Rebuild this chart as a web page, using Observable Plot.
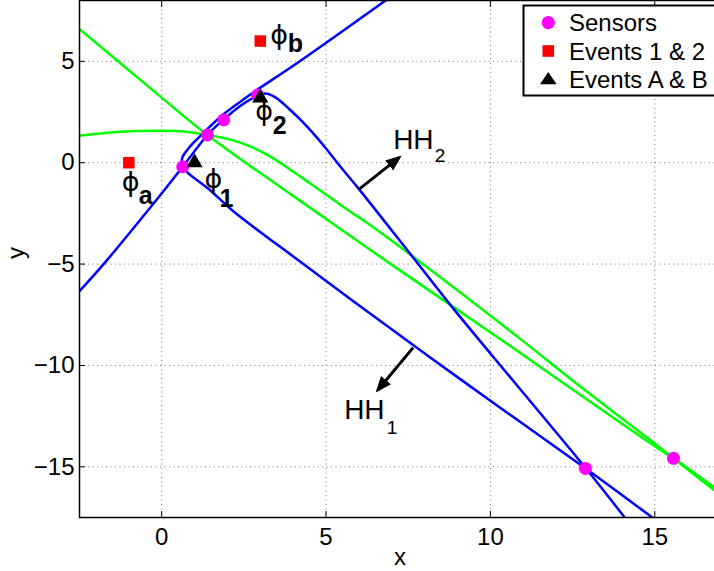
<!DOCTYPE html>
<html><head><meta charset="utf-8">
<script src="https://cdn.jsdelivr.net/npm/d3@7"></script>
<script src="https://cdn.jsdelivr.net/npm/@observablehq/plot@0.6"></script>
<style>
html,body{margin:0;padding:0;background:#fff;overflow:hidden;}
#wrap{position:relative;width:714px;height:571px;overflow:hidden;background:#fff;}
#legend{position:absolute;left:0;top:0;width:714px;height:571px;pointer-events:none;}
</style></head><body>
<div id="wrap"></div>
<script>
// ---- data ----
const xTicks = [0, 5, 10, 15];
const yTicks = [-15, -10, -5, 0, 5];

const sensorX = [0.64, 1.39, 1.89, 2.92, 12.89, 15.57];
const sensorY = [-0.20, 1.37, 2.11, 3.34, -15.08, -14.58];

const events12X = [-1, 3];
const events12Y = [0, 6];
const events12Labels = ["a", "b"];

const eventsABX = [1, 3];
const eventsABY = [0, 3.2];
const eventsABLabels = ["1", "2"];

// blue hyperbola HH1
const hh1X = [6.81, 4.19, 2.83, 2.31, 1.79, 1.31, 0.94, 0.76, 0.64, 0.61, 0.67, 0.82, 1.06, 1.49, 2.16, 4.22, 5.81, 9.24, 12.92, 14.95];
const hh1Y = [8.00, 4.99, 3.51, 2.91, 2.27, 1.53, 0.94, 0.59, 0.30, 0.05, -0.25, -0.54, -0.84, -1.38, -2.37, -4.89, -6.81, -10.86, -15.11, -17.53];

// blue hyperbola HH2
const hh2X = [-2.52, -1.76, -0.18, 0.64, 1.40, 1.88, 2.40, 2.92, 3.16, 3.47, 3.83, 4.22, 4.59, 4.98, 5.44, 5.99, 7.63, 8.88, 10.70, 12.92, 14.10];
const hh2Y = [-6.37, -4.99, -1.88, -0.20, 1.38, 2.12, 2.81, 3.31, 3.41, 3.21, 2.72, 2.12, 1.48, 0.74, -0.20, -1.28, -4.64, -7.21, -10.77, -15.11, -17.53];

// green hyperbolas
const g1X = [-2.52, 0.00, 1.39, 5.08, 6.96, 10.91, 12.13, 15.17, 15.57, 16.81, 17.0];
const g1Y = [6.62, 3.21, 1.37, -2.86, -4.99, -9.38, -10.77, -14.17, -14.58, -16.00, -16.2];
const g2X = [-2.52, -1.25, 0.00, 0.73, 1.39, 2.10, 2.71, 3.31, 3.92, 4.53, 5.14, 5.74, 6.20, 6.96, 10.91, 12.52, 15.17, 15.57, 16.81, 17.0];
const g2Y = [1.33, 1.53, 1.58, 1.53, 1.37, 1.14, 0.79, 0.30, -0.35, -1.04, -1.73, -2.42, -2.91, -3.80, -8.69, -10.77, -14.07, -14.58, -16.15, -16.35];

// direction arrows and their labels
const arrowX1 = [5.99, 7.65];
const arrowY1 = [-1.33, -9.12];
const arrowX2 = [7.23, 6.57];
const arrowY2 = [0.26, -11.22];
const arrowNames = ["HH", "HH"];
const arrowSubs = ["2", "1"];

const legendLabels = ["Sensors", "Events 1 & 2", "Events A & B"];

// ---- build ----
const font = "'Liberation Sans', Arial, Helvetica, sans-serif";
const pts = (xs, ys) => xs.map((x, i) => ({x, y: ys[i]}));
const sensors = pts(sensorX, sensorY);
const ev12 = events12X.map((x, i) => ({x, y: events12Y[i], label: events12Labels[i]}));
const evAB = eventsABX.map((x, i) => ({x, y: eventsABY[i], label: eventsABLabels[i]}));
const arrows = arrowX1.map((x1, i) => ({x1, y1: arrowY1[i], x2: arrowX2[i], y2: arrowY2[i], name: arrowNames[i], sub: arrowSubs[i]}));

const BLUE = "#0000ff", GREEN = "#00ff00", MAG = "#ff00ff", RED = "#ff0000";

// filled arrowhead marker
function filledHead(color) {
  const m = d3.create("svg:marker")
    .attr("viewBox", "0 -7 16 14")
    .attr("markerUnits", "userSpaceOnUse")
    .attr("markerWidth", 16)
    .attr("markerHeight", 14)
    .attr("refX", 13)
    .attr("refY", 0)
    .attr("orient", "auto");
  m.append("path").attr("d", "M0,-6.5L16,0L0,6.5Z").attr("fill", color).attr("stroke", "none");
  return m.node();
}

function lbl(d, main, sub, o) {
  return [
    Plot.text([d], {x: o.px, y: o.py, text: () => main, fontSize: o.size, fontFamily: o.family, textAnchor: "start", lineAnchor: "bottom", dx: o.dx, dy: o.dy, fill: "black"}),
    Plot.text([d], {x: o.px, y: o.py, text: () => sub, fontSize: o.subSize, fontWeight: o.weight, textAnchor: "start", lineAnchor: "bottom", dx: o.sdx, dy: o.sdy, fill: "black"})
  ];
}
const phiStyle = {px: "x", py: "y", size: 27, subSize: 25, weight: "bold", family: "'DejaVu Sans', sans-serif"};
const hhStyle = {px: "x2", py: "y2", size: 28, subSize: 19, weight: "normal", family: font};
const PHI = "\u03D5";

const lineOpts = {x: "x", y: "y", strokeWidth: 2.5, curve: "catmull-rom", clip: true};

const plot = Plot.plot({
  width: 724,
  height: 571,
  marginLeft: 79,
  marginRight: 4,
  marginTop: 0,
  marginBottom: 54,
  style: `font-family:${font};font-size:24px;color:black;background:white;max-width:none;overflow:hidden;`,
  x: {domain: [-2.5, 17]},
  y: {domain: [-17.5, 8]},
  marks: [
    Plot.gridX(xTicks, {stroke: "#777", strokeOpacity: 1, strokeWidth: 1, strokeDasharray: "1,3.5"}),
    Plot.gridY(yTicks, {stroke: "#777", strokeOpacity: 1, strokeWidth: 1, strokeDasharray: "1,3.5"}),
    Plot.line(pts(g1X, g1Y), {...lineOpts, stroke: GREEN}),
    Plot.line(pts(g2X, g2Y), {...lineOpts, stroke: GREEN}),
    Plot.line(pts(hh2X, hh2Y), {...lineOpts, stroke: BLUE}),
    Plot.line(pts(hh1X, hh1Y), {...lineOpts, stroke: BLUE}),
    Plot.dot(sensors, {x: "x", y: "y", r: 6.5, fill: MAG, stroke: "none"}),
    Plot.dot(ev12, {x: "x", y: "y", r: 6.5, symbol: "square", fill: RED, stroke: "none"}),
    Plot.dot(evAB, {x: "x", y: "y", r: 6, symbol: "triangle", fill: "black", stroke: "none"}),
    Plot.link(arrows, {x1: "x1", y1: "y1", x2: "x2", y2: "y2", stroke: "black", strokeWidth: 3, markerEnd: filledHead}),
    ...lbl(ev12[0], PHI, ev12[0].label, {...phiStyle, dx: -7, dy: 28, sdx: 10, sdy: 41.3}),
    ...lbl(ev12[1], PHI, ev12[1].label, {...phiStyle, dx: 10, dy: 3, sdx: 27.5, sdy: 11}),
    ...lbl(evAB[0], PHI, evAB[0].label, {...phiStyle, dx: 10, dy: 25.5, sdx: 25, sdy: 44.8}),
    ...lbl(evAB[1], PHI, evAB[1].label, {...phiStyle, dx: -5, dy: 22.5, sdx: 12.5, sdy: 36.2}),
    ...lbl(arrows[0], arrows[0].name, arrows[0].sub, {...hhStyle, dx: -6.2, dy: -8.4, sdx: 35.4, sdy: 5}),
    ...lbl(arrows[1], arrows[1].name, arrows[1].sub, {...hhStyle, dx: -33.5, dy: 29, sdx: 9, sdy: 44}),
    Plot.frame({stroke: "black", strokeWidth: 1.5}),
    Plot.axisX(xTicks, {anchor: "bottom", tickSize: -6, tickPadding: 16, fontSize: 24, label: null, stroke: "black"}),
    Plot.axisX(xTicks, {anchor: "top", tickSize: -6, tickFormat: () => "", label: null, stroke: "black"}),
    Plot.axisY(yTicks, {anchor: "left", tickSize: -6, tickPadding: 11, fontSize: 24, label: null, stroke: "black"}),
    Plot.text(["x"], {frameAnchor: "bottom", text: d => d, dy: 47, lineAnchor: "bottom", fontSize: 24, fill: "black"}),
    Plot.text(["y"], {frameAnchor: "left", text: d => d, dx: -56, rotate: -90, lineAnchor: "bottom", fontSize: 24, fill: "black"})
  ]
});
document.getElementById("wrap").appendChild(plot);

// legend overlay (real text)
const ns = "http://www.w3.org/2000/svg";
const lg = document.createElementNS(ns, "svg");
lg.setAttribute("id", "legend");
lg.setAttribute("width", 714); lg.setAttribute("height", 571);
lg.style.fontFamily = font;
const mk = (tag, attrs, txt) => { const e = document.createElementNS(ns, tag); for (const k in attrs) e.setAttribute(k, attrs[k]); if (txt) e.textContent = txt; lg.appendChild(e); return e; };
mk("rect", {x: 523.5, y: 5.5, width: 196, height: 90, fill: "white", stroke: "black", "stroke-width": 2});
mk("circle", {cx: 548.3, cy: 22.7, r: 6.6, fill: MAG});
mk("rect", {x: 542.5, y: 45.2, width: 11.6, height: 11.6, fill: RED});
mk("polygon", {points: "540,84.3 556.6,84.3 548.3,72", fill: "black"});
const baselines = [31, 60, 88];
legendLabels.forEach((t, i) => mk("text", {x: 569, y: baselines[i], "font-size": 24, fill: "black"}, t));
document.getElementById("wrap").appendChild(lg);
</script>
</body></html>
